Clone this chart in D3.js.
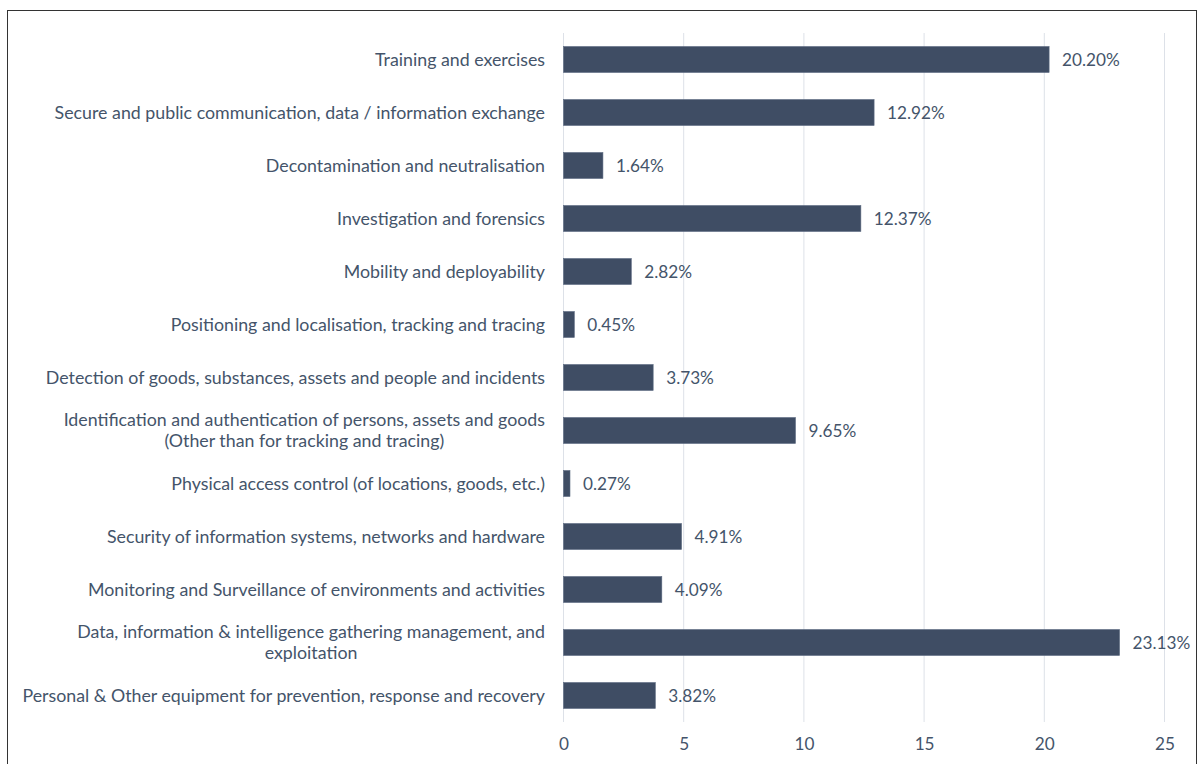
<!DOCTYPE html>
<html>
<head>
<meta charset="utf-8">
<script src="https://cdn.jsdelivr.net/npm/d3@7"></script>
<style>
  html, body { margin: 0; padding: 0; background: #fff; }
  svg { display: block; }
</style>
</head>
<body>
<svg id="chart" width="1198" height="764"></svg>
<script>
// Share of projects per capability area (%), listed top to bottom
const categories = [
  ["Training and exercises"],
  ["Secure and public communication, data / information exchange"],
  ["Decontamination and neutralisation"],
  ["Investigation and forensics"],
  ["Mobility and deployability"],
  ["Positioning and localisation, tracking and tracing"],
  ["Detection of goods, substances, assets and people and incidents"],
  ["Identification and authentication of persons, assets and goods", "(Other than for tracking and tracing)"],
  ["Physical access control (of locations, goods, etc.)"],
  ["Security of information systems, networks and hardware"],
  ["Monitoring and Surveillance of environments and activities"],
  ["Data, information & intelligence gathering management, and", "exploitation"],
  ["Personal & Other equipment for prevention, response and recovery"]
];
const values = [20.20, 12.92, 1.64, 12.37, 2.82, 0.45, 3.73, 9.65, 0.27, 4.91, 4.09, 23.13, 3.82];
const xTicks = [0, 5, 10, 15, 20, 25];

const svg = d3.select("#chart");
const textColor = "#44546a";
const barColor = "#3f4d64";
const gridColor = "#dde1e8";
const font = "Lato, 'Open Sans', sans-serif";
const labelSize = 17.8;
const valueSize = 17.2;

// Outer frame
svg.append("rect")
  .attr("x", 7.5).attr("y", 10.5)
  .attr("width", 1189).attr("height", 800)
  .attr("fill", "none").attr("stroke", "#333").attr("stroke-width", 1);

const x = d3.scaleLinear().domain([0, 25]).range([563.5, 1164.5]);
const y = d3.scaleBand()
  .domain(d3.range(categories.length))
  .range([33, 722])
  .paddingInner(0.51)
  .paddingOuter(0.255);

// Vertical gridlines
svg.append("g")
  .selectAll("line")
  .data(xTicks)
  .join("line")
  .attr("x1", d => x(d)).attr("x2", d => x(d))
  .attr("y1", 33).attr("y2", 722)
  .attr("stroke", gridColor).attr("stroke-width", 1);

// Bottom axis labels
const axis = d3.axisBottom(x).tickValues(xTicks).tickSize(0).tickPadding(0);
const ax = svg.append("g").attr("transform", "translate(0,738)").call(axis);
ax.select(".domain").remove();
ax.selectAll("text")
  .attr("fill", textColor)
  .attr("font-family", font)
  .attr("font-size", valueSize)
  .attr("dy", "0.71em");

// Bars
svg.append("g")
  .selectAll("rect")
  .data(values)
  .join("rect")
  .attr("x", x(0))
  .attr("y", (d, i) => y(i))
  .attr("width", d => x(d) - x(0))
  .attr("height", y.bandwidth())
  .attr("fill", barColor)
  .attr("stroke", "#5c6a80").attr("stroke-width", 0.6);

// Value labels
svg.append("g")
  .selectAll("text")
  .data(values)
  .join("text")
  .attr("x", d => x(d) + 13)
  .attr("y", (d, i) => y(i) + y.bandwidth() / 2)
  .attr("dy", "0.35em")
  .attr("fill", textColor)
  .attr("font-family", font)
  .attr("font-size", valueSize)
  .text(d => d.toFixed(2) + "%");

// Category labels: block right-aligned to the axis, lines centered within the block
const labelRight = 545;
const lineH = 21;
const lg = svg.append("g");
categories.forEach((lines, i) => {
  const cy = y(i) + y.bandwidth() / 2;
  const t = lg.append("text")
    .attr("fill", textColor)
    .attr("font-family", font)
    .attr("font-size", labelSize);
  const spans = lines.map((s, k) => t.append("tspan")
    .attr("y", cy + (k - (lines.length - 1) / 2) * lineH)
    .attr("dy", "0.35em")
    .text(s));
  const widths = spans.map(sp => sp.node().getComputedTextLength());
  const w = d3.max(widths);
  const center = labelRight - w / 2;
  spans.forEach(sp => sp.attr("x", center).attr("text-anchor", "middle"));
});
</script>
</body>
</html>
